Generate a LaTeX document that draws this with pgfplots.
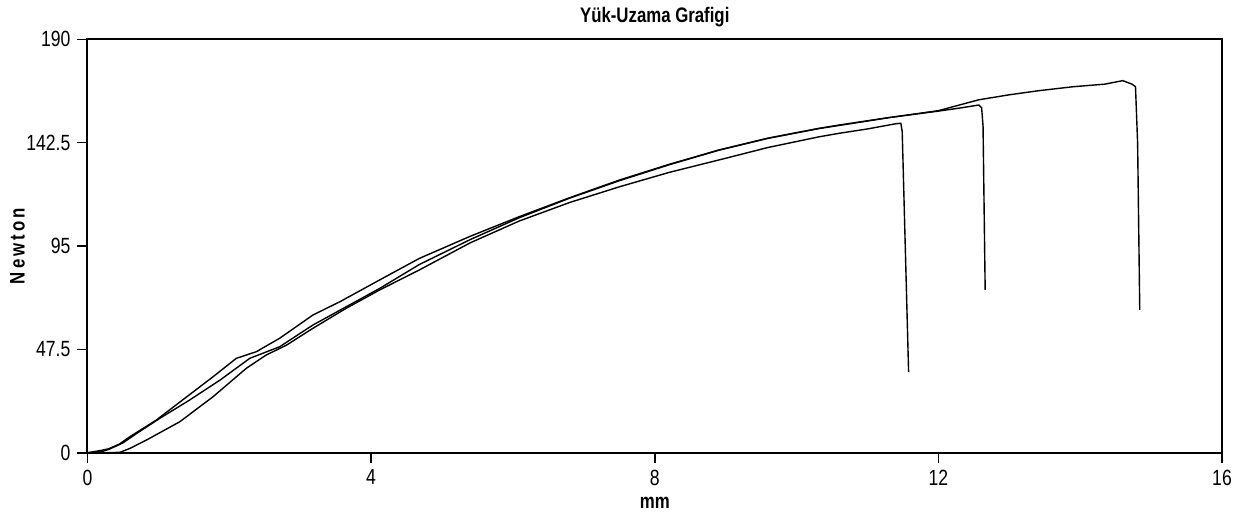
\documentclass[border=0pt]{standalone}
\usepackage{fontspec}
\setmainfont[FakeStretch=0.8]{Liberation Sans}
\usepackage{pgfplots}
\pgfplotsset{compat=1.18}
\begin{document}
\begin{tikzpicture}
\useasboundingbox (0,0) rectangle (621pt,258pt);
\begin{axis}[
  at={(43.75pt,31.65pt)}, anchor=south west,
  width=567.25pt, height=206.7pt, scale only axis,
  xmin=0, xmax=16, ymin=0, ymax=190,
  xtick={0,4,8,12,16},
  ytick={0,47.5,95,142.5,190},
  yticklabels={0,47.5,95,142.5,190},
  tick align=outside, tick pos=left,
  major tick length=5pt,
  axis line style={line width=1pt},
  every tick/.style={black, line width=0.8pt},
  /pgf/number format/assume math mode=true,
  tick label style={font=\fontsize{11}{13}\selectfont},
  title={Yük-Uzama Grafigi},
  title style={font=\fontsize{10.5}{12}\selectfont\bfseries, at={(axis description cs:0.5,1)}, anchor=center, yshift=5pt},
  xlabel={mm},
  xlabel style={font=\fontsize{10.5}{12}\selectfont\bfseries, at={(axis description cs:0.5,-0.122)}, anchor=center},
  ylabel={Newton},
  ylabel style={font=\fontsize{10.5}{12}\selectfont\bfseries\addfontfeature{LetterSpace=15}, at={(axis description cs:-0.0617,0.5)}, anchor=center},
]
% Curve C (breaks at ~14.8 mm)
\addplot[black, line width=0.7pt] coordinates {
(0,0) (0.15,0.8) (0.3,1.8) (0.45,4.0) (0.6,7.4) (0.97,15.0) (1.4,25.7) (1.77,34.9)
(2.1,43.4) (2.38,46.4) (2.71,52.6) (3.18,63.3) (3.56,69.4) (4.12,79.4) (4.68,89.3)
(5.4,99.5) (6.09,108.5) (6.8,117.2) (7.5,125.3) (8.2,132.5) (8.9,139.1) (9.6,144.6)
(10.32,149.1) (10.6,150.6) (11.3,154.0) (12.0,157.2) (12.57,162.2) (13.0,164.5)
(13.42,166.4) (13.9,168.2) (14.35,169.4) (14.6,171.0) (14.73,169.4) (14.78,168.2)
(14.81,142.2) (14.84,65.6)
};
% Curve B (breaks at ~12.6 mm)
\addplot[black, line width=0.7pt] coordinates {
(0,0) (0.2,0.5) (0.3,1.5) (0.5,4.5) (0.7,9.0) (1.02,15.8) (1.44,24.2) (1.87,33.4)
(2.29,43.4) (2.71,48.7) (3.18,58.7) (3.65,67.1) (4.12,75.5) (4.68,86.5)
(5.4,98.0) (6.09,108.0) (6.8,117.0) (7.5,125.0) (8.2,132.3) (8.9,139.0) (9.6,144.5)
(10.32,149.0) (10.6,150.4) (11.3,154.0) (12.0,157.0) (12.3,158.4) (12.57,159.8)
(12.61,158.5) (12.63,150.0) (12.66,74.8)
};
% Curve A (breaks at ~11.5 mm)
\addplot[black, line width=0.7pt] coordinates {
(0,0) (0.3,0) (0.46,0.2) (0.6,2.0) (0.83,5.8) (1.3,14.2) (1.77,25.7) (2.24,38.8)
(2.52,44.9) (2.81,49.5) (3.18,57.2) (3.65,66.4) (4.12,74.8) (4.68,84.0)
(5.4,96.5) (6.09,106.5) (6.8,115.0) (7.5,122.2) (8.2,128.8) (8.9,134.5) (9.6,140.3)
(10.32,145.2) (10.6,146.8) (11.0,148.8) (11.4,151.2) (11.47,151.4) (11.49,147.5)
(11.58,37.2)
};
\end{axis}
\end{tikzpicture}
\end{document}
